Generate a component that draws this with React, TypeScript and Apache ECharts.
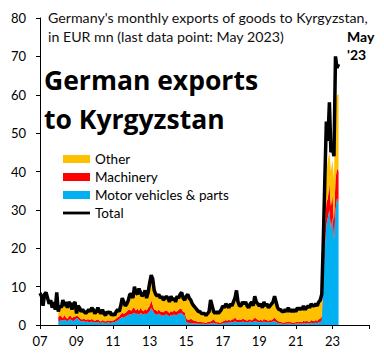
import React, { useEffect, useRef } from "react";
import * as echarts from "echarts";

// Monthly values, EUR mn
// Total: Jan 2007 - May 2023
const total: number[] = [
  8.3, 7.5, 5, 8, 8.5, 7, 5.5, 6.5, 4.5, 6, 4, 8.5, // 2007
  3.5, 5, 4.5, 6.5, 5, 6, 4.5, 6, 5.5, 4, 5.5, 6, // 2008
  3, 5, 4.5, 3.5, 4, 3.5, 3, 3.5, 4, 3.5, 4.5, 4, // 2009
  3, 3.5, 4.5, 3.5, 3, 4, 3, 2.5, 3.5, 3, 3.5, 2.5, // 2010
  3, 2.5, 3.5, 4, 3.5, 5, 7, 6, 5, 5.5, 6.5, 8, // 2011
  8, 7, 10, 8.5, 8, 9.5, 8.5, 7.5, 8, 9, 7, 8.5, // 2012
  11, 13, 12, 9, 8, 7.5, 8, 7, 7.5, 6.5, 7, 7.5, // 2013
  7, 6, 7.5, 6.5, 7, 6, 7.5, 7, 8, 8.5, 7, 6.5, // 2014
  7.5, 8, 7, 6.5, 5.5, 5, 4.5, 4, 3.5, 3.5, 3, 3, // 2015
  3, 2.5, 3, 3.5, 6.5, 5, 3.5, 3, 3.5, 3, 3.5, 4, // 2016
  5, 4.5, 5.5, 5, 4.5, 5.5, 5, 6, 7, 9, 6, 5, // 2017
  5, 6, 5.5, 6, 5, 4.5, 5.5, 6, 5, 7.5, 6, 5.5, // 2018
  5, 5.5, 4.5, 6, 5, 5.5, 4.5, 5, 5.5, 6, 7.5, 6, // 2019
  4.5, 4, 4, 3.5, 3.5, 4, 3.5, 4.5, 3.5, 4, 3.5, 4, // 2020
  3.5, 4.5, 4, 4.5, 4, 5, 4, 4.5, 5, 4.5, 5.5, 5, // 2021
  5, 5.5, 5, 6, 6.5, 8, 22, 38, 53, 48, 58, 45, // 2022
  46, 44, 70, 67, 68, // 2023
];

// Components: Jan 2008 - May 2023
const motorVehicles: number[] = [
  1.2, 1.0, 1.3, 1.1, 1.4, 1.2, 1.0, 1.3, 1.5, 1.2, 1.0, 1.4, // 2008
  1.8, 1.5, 1.2, 1.0, 0.9, 1.0, 0.8, 0.9, 0.7, 0.8, 0.9, 0.7, // 2009
  0.6, 0.7, 0.8, 0.6, 0.5, 0.7, 0.6, 0.5, 0.6, 0.7, 0.5, 0.6, // 2010
  0.7, 0.8, 1.0, 1.2, 1.5, 1.8, 2.0, 1.9, 2.2, 2.4, 2.6, 2.8, // 2011
  2.7, 3.0, 3.2, 2.8, 3.0, 2.6, 3.1, 2.9, 2.7, 3.0, 2.8, 3.2, // 2012
  3.5, 4.5, 3.8, 3.0, 2.8, 2.6, 3.0, 2.7, 2.5, 2.4, 2.6, 2.8, // 2013
  2.5, 2.3, 2.6, 2.4, 2.8, 2.5, 2.7, 2.9, 3.0, 3.2, 2.6, 2.4, // 2014
  0.8, 0.6, 0.5, 0.5, 0.4, 0.4, 0.4, 0.3, 0.3, 0.3, 0.3, 0.3, // 2015
  0.3, 0.2, 0.3, 0.3, 0.4, 0.5, 0.6, 0.4, 0.3, 0.3, 0.2, 0.3, // 2016
  0.4, 0.5, 0.6, 0.5, 0.7, 0.6, 0.8, 0.7, 1.0, 0.8, 0.7, 0.8, // 2017
  0.7, 0.9, 0.8, 0.7, 0.6, 0.8, 0.9, 0.7, 0.8, 1.0, 0.9, 0.8, // 2018
  0.7, 0.8, 0.6, 0.9, 0.7, 0.8, 0.6, 0.8, 0.7, 0.9, 1.0, 0.8, // 2019
  0.5, 0.4, 0.4, 0.3, 0.2, 0.3, 0.3, 0.4, 0.3, 0.3, 0.2, 0.3, // 2020
  0.3, 0.4, 0.3, 0.4, 0.3, 0.5, 0.4, 0.5, 0.4, 0.4, 0.6, 0.5, // 2021
  0.5, 0.6, 0.5, 0.7, 0.8, 1.2, 10, 20, 26, 28, 30, 25, // 2022
  28, 22, 30, 33, 32, // 2023
];

const machinery: number[] = [
  0.8, 1.5, 1.0, 0.7, 1.2, 0.8, 0.6, 1.0, 0.9, 0.7, 1.1, 0.8, // 2008
  0.6, 0.8, 0.7, 0.5, 0.6, 0.7, 0.5, 0.6, 0.8, 0.5, 0.7, 0.6, // 2009
  0.5, 0.6, 0.7, 0.5, 0.4, 0.6, 0.5, 0.4, 0.6, 0.5, 0.7, 0.5, // 2010
  0.5, 0.6, 0.7, 0.8, 0.7, 1.0, 1.2, 1.0, 0.9, 1.1, 1.3, 1.2, // 2011
  1.0, 1.5, 1.2, 1.0, 1.3, 1.1, 1.4, 1.0, 0.9, 1.2, 1.0, 1.3, // 2012
  1.5, 2.0, 1.4, 1.0, 1.2, 0.9, 1.1, 0.8, 1.0, 0.9, 1.1, 1.0, // 2013
  1.0, 0.8, 1.1, 0.9, 1.2, 1.0, 0.9, 1.1, 1.3, 1.0, 0.8, 0.9, // 2014
  1.0, 0.8, 0.9, 1.2, 1.0, 0.8, 0.7, 0.6, 0.5, 0.6, 0.5, 0.4, // 2015
  0.4, 0.3, 0.5, 0.6, 0.5, 0.7, 0.9, 0.6, 0.4, 0.5, 0.3, 0.4, // 2016
  0.5, 0.6, 0.7, 0.6, 0.8, 0.5, 0.7, 0.8, 1.0, 0.7, 0.6, 0.7, // 2017
  0.6, 0.8, 0.7, 0.6, 0.5, 0.7, 0.6, 0.5, 0.7, 0.9, 0.8, 0.6, // 2018
  0.5, 0.6, 0.5, 0.7, 0.6, 0.5, 0.4, 0.6, 0.5, 0.7, 0.9, 0.7, // 2019
  0.6, 0.5, 0.4, 0.4, 0.3, 0.5, 0.4, 0.6, 0.4, 0.5, 0.3, 0.4, // 2020
  0.4, 0.5, 0.4, 0.5, 0.4, 0.6, 0.5, 0.6, 0.5, 0.4, 0.7, 0.6, // 2021
  0.5, 0.7, 0.6, 0.8, 0.9, 1.0, 3, 5, 6, 5, 7, 6, // 2022
  6, 5, 8, 8, 8, // 2023
];

const other: number[] = [
  1.2, 2.2, 1.9, 4.4, 2.1, 3.7, 2.6, 3.4, 2.8, 1.8, 3.1, 3.5, // 2008
  0.3, 2.4, 2.3, 1.7, 2.2, 1.5, 1.4, 1.7, 2.2, 1.9, 2.6, 2.4, // 2009
  1.6, 1.9, 2.7, 2.1, 1.8, 2.4, 1.6, 1.3, 2.0, 1.5, 2.0, 1.1, // 2010
  1.5, 0.8, 1.5, 1.7, 1.0, 1.9, 3.5, 2.8, 1.6, 1.7, 2.3, 3.7, // 2011
  4.0, 2.2, 5.3, 4.4, 3.4, 5.5, 3.7, 3.3, 4.1, 4.5, 2.9, 3.7, // 2012
  5.7, 6.2, 6.5, 4.7, 3.7, 3.7, 3.6, 3.2, 3.7, 2.9, 3.0, 3.4, // 2013
  3.2, 2.6, 3.5, 2.9, 2.7, 2.2, 3.6, 2.7, 3.4, 4.0, 3.3, 2.9, // 2014
  5.4, 6.3, 5.3, 4.5, 3.8, 3.5, 3.1, 2.8, 2.4, 2.3, 1.9, 2.0, // 2015
  2.0, 1.7, 1.9, 2.3, 5.3, 3.5, 1.7, 1.7, 2.5, 1.9, 2.7, 3.0, // 2016
  3.7, 3.0, 3.8, 3.5, 2.6, 4.0, 3.1, 4.1, 4.6, 7.1, 4.3, 3.1, // 2017
  3.3, 3.9, 3.6, 4.3, 3.5, 2.6, 3.6, 4.4, 3.1, 5.2, 3.9, 3.7, // 2018
  3.4, 3.7, 3.0, 4.0, 3.3, 3.8, 3.1, 3.2, 3.9, 4.0, 5.2, 4.1, // 2019
  3.0, 2.7, 2.8, 2.4, 2.6, 2.8, 2.4, 3.1, 2.4, 2.8, 2.6, 2.9, // 2020
  2.4, 3.2, 2.9, 3.2, 2.9, 3.5, 2.7, 3.0, 3.7, 3.3, 3.8, 3.5, // 2021
  3.6, 3.8, 3.5, 4.1, 4.4, 5.4, 5, 5, 8, 10, 8, 9, // 2022
  9, 11, 20, 19, 20, // 2023
];

const firstYear = 2007;
const lastYear = 2025;
const componentStartYear = 2008;
const yTicks = [0, 10, 20, 30, 40, 50, 60, 70, 80];

const subtitleLines = [
  "Germany's monthly exports of goods to Kyrgyzstan,",
  "in EUR mn (last data point: May 2023)",
];
const titleLines = ["German exports", "to Kyrgyzstan"];
const lastPointLines = ["May", "'23"];

const FONT = "Lato, 'Open Sans', sans-serif";
const TITLE_FONT = "'Open Sans', Lato, sans-serif";
// thick line legend icon (27 x 8 box, 2.8px tall stroke in the middle)
const LINE_ICON = "path://M0,0M27,8M0,2.6L27,2.6L27,5.4L0,5.4Z";

export default function App() {
  const ref = useRef<HTMLDivElement>(null);
  useEffect(() => {
    if (!ref.current) return;
    const chart = echarts.init(ref.current, null, { renderer: "svg" });

    const nCats = (lastYear - firstYear) * 12 + 1;
    const categories: string[] = [];
    for (let i = 0; i < nCats; i++) {
      const y = firstYear + Math.floor(i / 12);
      const m = (i % 12) + 1;
      categories.push(`${y}-${m < 10 ? "0" + m : m}`);
    }
    const offset = (componentStartYear - firstYear) * 12;
    const pad = (arr: number[]) => [
      ...new Array(offset).fill(null),
      ...arr,
    ];

    const areaSeries = (name: string, data: number[], color: string) => ({
      name,
      type: "line",
      stack: "parts",
      data: pad(data),
      symbol: "none",
      showSymbol: false,
      lineStyle: { width: 0, color },
      itemStyle: { color },
      areaStyle: { color, opacity: 1 },
      z: 2,
    });

    chart.setOption({
      animation: false,
      grid: { left: 40, right: 15, top: 18, bottom: 36, containLabel: false },
      xAxis: {
        type: "category",
        data: categories,
        boundaryGap: false,
        axisLine: { show: true, lineStyle: { color: "#000", width: 1 } },
        axisTick: {
          show: true,
          interval: (i: number) => i % 24 === 0,
          length: 4,
          lineStyle: { color: "#000" },
        },
        axisLabel: {
          interval: (i: number) => i % 24 === 0,
          formatter: (v: string) => {
            const y = Number(v.slice(0, 4));
            return y >= lastYear ? "" : v.slice(2, 4);
          },
          fontFamily: FONT,
          fontSize: 13,
          color: "#000",
          margin: 9,
        },
        splitLine: { show: false },
      },
      yAxis: {
        type: "value",
        min: yTicks[0],
        max: yTicks[yTicks.length - 1],
        interval: yTicks[1] - yTicks[0],
        axisLine: { show: true, lineStyle: { color: "#000", width: 1 } },
        axisTick: { show: true, length: 4, lineStyle: { color: "#000" } },
        axisLabel: { fontFamily: FONT, fontSize: 13, color: "#000", margin: 14 },
        splitLine: { show: false },
      },
      legend: {
        orient: "vertical",
        left: 58,
        top: 147,
        itemWidth: 27,
        itemHeight: 8,
        itemGap: 4,
        textStyle: { fontFamily: FONT, fontSize: 13.5, color: "#000" },
        data: [
          { name: "Other", icon: "rect" },
          { name: "Machinery", icon: "rect" },
          { name: "Motor vehicles & parts", icon: "rect" },
          { name: "Total", icon: LINE_ICON, itemStyle: { color: "#000" } },
        ],
      },
      series: [
        areaSeries("Motor vehicles & parts", motorVehicles, "#00B0F0"),
        areaSeries("Machinery", machinery, "#FF0000"),
        areaSeries("Other", other, "#FFC000"),
        {
          name: "Total",
          type: "line",
          data: total,
          symbol: "none",
          showSymbol: false,
          lineStyle: { width: 3.5, color: "#000" },
          itemStyle: { color: "#000" },
          z: 3,
        },
      ],
      graphic: [
        ...subtitleLines.map((t, i) => ({
          type: "text",
          x: 48,
          y: 17 + i * 19,
          style: {
            text: t,
            fontFamily: FONT,
            fontSize: 14.2,
            fill: "#111",
            verticalAlign: "middle",
            align: "left",
          },
        })),
        ...titleLines.map((t, i) => ({
          type: "text",
          x: 44,
          y: 80 + i * 38.5,
          style: {
            text: t,
            fontFamily: TITLE_FONT,
            fontWeight: "bold",
            fontSize: 26.5,
            fill: "#000",
            verticalAlign: "middle",
            align: "left",
          },
        })),
        ...lastPointLines.map((t, i) => ({
          type: "text",
          x: 347,
          y: 36 + i * 18,
          style: {
            text: t,
            fontFamily: FONT,
            fontWeight: "bold",
            fontSize: 14,
            fill: "#000",
            verticalAlign: "middle",
            align: "left",
          },
        })),
      ],
    });
    return () => chart.dispose();
  }, []);
  return (
    <div
      ref={ref}
      style={{ position: "absolute", left: 0, top: 0, width: 384, height: 361, background: "#fff" }}
    />
  );
}
